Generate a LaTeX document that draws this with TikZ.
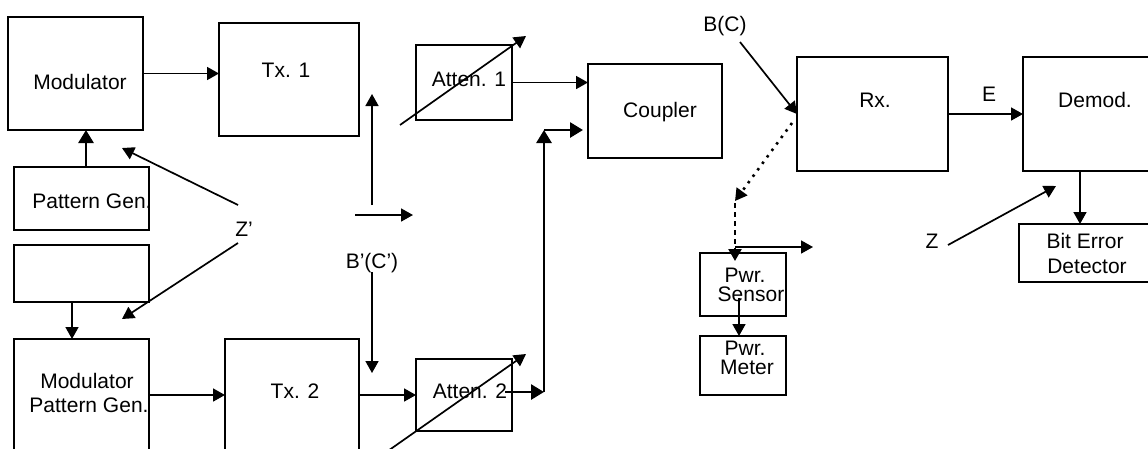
\documentclass[tikz,border=0pt]{standalone}
\usepackage{fontspec}
\setmainfont{Liberation Sans}
\usetikzlibrary{arrows.meta}
\begin{document}
\begin{tikzpicture}[x=1pt,y=-1pt,
  box/.style={draw, line width=1.8pt, anchor=north west, inner sep=0pt, outer sep=0pt},
  lbl/.style={anchor=base, inner sep=0pt, font=\fontsize{21}{24}\selectfont},
  arr/.style={line width=1.7pt, -{Triangle[length=12pt,width=13pt]}},
  tarr/.style={line width=2.8pt, -{Triangle[length=13pt,width=15pt]}}]
\useasboundingbox (0,0) rectangle (1148,448);
\clip (0,0) rectangle (1148,448);
% boxes
\node[box, minimum width=135pt, minimum height=113pt] (mod) at (8,17) {};
\node[box, minimum width=140pt, minimum height=113pt] (tx1) at (219,23) {};
\node[box, minimum width=135pt, minimum height=63pt] (pg) at (14,167) {};
\node[box, minimum width=135pt, minimum height=57pt] (emp) at (14,245) {};
\node[box, minimum width=135pt, minimum height=130pt] (mpg) at (14,339) {};
\node[box, minimum width=134pt, minimum height=130pt] (tx2) at (225,339) {};
\node[box, minimum width=96pt, minimum height=75pt] (at1) at (416,45) {};
\node[box, minimum width=96pt, minimum height=72pt] (at2) at (416,359) {};
\node[box, minimum width=134pt, minimum height=94pt] (cpl) at (588,64) {};
\node[box, minimum width=151pt, minimum height=114pt] (rx) at (797,57) {};
\node[box, minimum width=140pt, minimum height=114pt] (dem) at (1023,57) {};
\node[box, minimum width=140pt, minimum height=58pt] (bed) at (1019,224) {};
\node[box, minimum width=86pt, minimum height=63pt] (ps) at (700,253) {};
\node[box, minimum width=86pt, minimum height=59pt] (pm) at (700,336) {};
% labels
\node[lbl] (tmod) at (80,89) {Modulator};
\node[lbl] (ttx1) at (286,77) {Tx. 1};
\node[lbl] (tpg) at (92,208) {Pattern Gen.};
\node[lbl] (tz1) at (244,236) {Z’};
\node[lbl] (tat1) at (469,86) {Atten. 1};
\node[lbl] (tcpl) at (660,117) {Coupler};
\node[lbl] (tbc) at (725,31) {B(C)};
\node[lbl] (trx) at (875,107) {Rx.};
\node[lbl] (te) at (989,101) {E};
\node[lbl] (tdem) at (1095,107) {Demod.};
\node[lbl] (tz) at (932,248) {Z};
\node[lbl] (tbe1) at (1085,248) {Bit Error};
\node[lbl] (tbe2) at (1087,273) {Detector};
\node[lbl] (tps1) at (745,282) {Pwr.};
\node[lbl] (tps2) at (751,301) {Sensor};
\node[lbl] (tpm1) at (745,355) {Pwr.};
\node[lbl] (tpm2) at (747,374) {Meter};
\node[lbl] (tbc2) at (372,268) {B’(C’)};
\node[lbl] (tmpg1) at (87,388) {Modulator};
\node[lbl] (tmpg2) at (89,412) {Pattern Gen.};
\node[lbl] (ttx2) at (295,398) {Tx. 2};
\node[lbl] (tat2) at (470,398) {Atten. 2};
% free-end coordinates
\coordinate (d1s) at (400,125);
\coordinate (d1e) at (526,36);
\coordinate (d2s) at (385,453);
\coordinate (d2e) at (526,354);
\coordinate (bcs) at (372,272);
\coordinate (bce) at (372,373);
\coordinate (vus) at (372,205);
\coordinate (vue) at (372,94);
\coordinate (hrs) at (355,215);
\coordinate (hre) at (413,215);
\coordinate (z1s) at (238,205);
\coordinate (z1e) at (122,148);
\coordinate (z2s) at (238,243);
\coordinate (z2e) at (122,319);
\coordinate (bs) at (740,42);
\coordinate (be) at (797,114);
\coordinate (ds) at (792,123);
\coordinate (de) at (735,201);
\coordinate (vs) at (735,203);
\coordinate (ve) at (735,261);
\coordinate (ps1) at (735,247);
\coordinate (ps2) at (813,247);
\coordinate (zs) at (948,245);
\coordinate (ze) at (1056,186);
\coordinate (j1) at (544,392);
\coordinate (j2) at (544,130);
\coordinate (a2o) at (505,392);
% connectors
\draw[arr] (mod.east) -- (mod.east -| tx1.west);
\draw[tarr] ([xshift=4.5pt]pg.north) -- ([xshift=4.5pt]pg.north |- mod.south);
\draw[arr] ([xshift=-9.5pt]emp.south) -- ([xshift=-9.5pt]emp.south |- mpg.north);
\draw[arr] (mpg.east |- at2.east) -- (tx2.west |- at2.east);
\draw[arr] (tx2.east |- at2.east) -- (at2.west);
\draw[arr] (at1.east) -- (at1.east -| cpl.west);
\draw[tarr] (a2o) -- (j1);
\draw[tarr] (j1) -- (j2);
\draw[tarr, shorten >=5pt] (j2) -- (j2 -| cpl.west);
\draw[arr] (d1s) -- (d1e);
\draw[arr] (d2s) -- (d2e);
\draw[arr] (bcs) -- (bce);
\draw[arr] (vus) -- (vue);
\draw[arr] (hrs) -- (hre);
\draw[arr] (z1s) -- (z1e);
\draw[arr] (z2s) -- (z2e);
\draw[arr] (bs) -- (be);
\draw[arr, dash pattern=on 2.5pt off 5.5pt, line width=2.6pt] (ds) -- (de);
\draw[arr, dash pattern=on 5pt off 4pt, line width=2.4pt] (vs) -- (ve);
\draw[arr] (ps1) -- (ps2);
\draw[arr] (ps.south -| 739,0) ++(0,-18) -- (pm.north -| 739,0);
\draw[arr] (rx.east) -- (rx.east -| dem.west);
\draw[arr] (dem.south -| 1080,0) -- (bed.north -| 1080,0);
\draw[arr] (zs) -- (ze);
\end{tikzpicture}
\end{document}
